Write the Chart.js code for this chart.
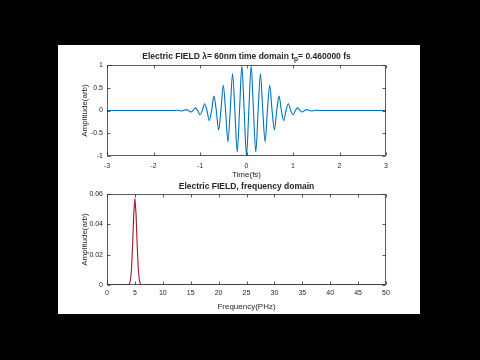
<!DOCTYPE html>
<html>
<head>
<meta charset="utf-8">
<script src="https://cdn.jsdelivr.net/npm/chart.js@4.4.1/dist/chart.umd.min.js"></script>
<style>
  html, body { margin: 0; padding: 0; background: #000; }
  #fig { position: absolute; left: 58px; top: 45px; width: 362px; height: 269px; background: #fff; }
  #timeCanvas { position: absolute; left: 0; top: 0; }
  #freqCanvas { position: absolute; left: 0; top: 137px; }
</style>
</head>
<body>
<div id="fig">
  <canvas id="timeCanvas" width="362" height="137"></canvas>
  <canvas id="freqCanvas" width="362" height="132"></canvas>
</div>
<script>
// time domain samples (fs) and field amplitude
const timeX = [-3, -1.55,
  -1.5, -1.45, -1.4, -1.35, -1.3, -1.25, -1.2, -1.15, -1.1, -1.05,
  -1.0, -0.95, -0.9, -0.85, -0.8, -0.75, -0.7, -0.65, -0.6, -0.55,
  -0.5, -0.45, -0.4, -0.35, -0.3, -0.25, -0.2, -0.15, -0.1, -0.05,
  0,
  0.05, 0.1, 0.15, 0.2, 0.25, 0.3, 0.35, 0.4, 0.45, 0.5,
  0.55, 0.6, 0.65, 0.7, 0.75, 0.8, 0.85, 0.9, 0.95, 1.0,
  1.05, 1.1, 1.15, 1.2, 1.25, 1.3, 1.35, 1.4, 1.45, 1.5,
  1.55, 3];
const timeY = [0, 0,
  0.005, 0, -0.010, 0, 0.019, 0, -0.034, 0, 0.058, 0,
  -0.094, 0, 0.148, 0, -0.221, 0, 0.315, 0, -0.428, 0,
  0.554, 0, -0.685, 0, 0.809, 0, -0.910, 0, 0.977, 0,
  -1,
  0, 0.977, 0, -0.910, 0, 0.809, 0, -0.685, 0, 0.554,
  0, -0.428, 0, 0.315, 0, -0.221, 0, 0.148, 0, -0.094,
  0, 0.058, 0, -0.034, 0, 0.019, 0, -0.010, 0, 0.005,
  0, 0];

// frequency domain (PHz) spectrum
const freqX = [0, 3.8, 4.0, 4.2, 4.4, 4.6, 4.8, 5.0, 5.2, 5.4, 5.6, 5.8, 6.0, 6.2, 50];
const freqY = [0, 0, 0.0006, 0.0030, 0.0109, 0.0273, 0.0474, 0.057, 0.0474, 0.0273, 0.0109, 0.0030, 0.0006, 0, 0];

const timeTicksX = [-3, -2, -1, 0, 1, 2, 3];
const timeTicksY = [-1, -0.5, 0, 0.5, 1];
const freqTicksX = [0, 5, 10, 15, 20, 25, 30, 35, 40, 45, 50];
const freqTicksY = [0, 0.02, 0.04, 0.06];

const FONT = '"Liberation Sans", Arial, Helvetica, sans-serif';
const INK = '#262626';

function pairs(xs, ys) {
  return xs.map((x, i) => ({ x: x, y: ys[i] }));
}

// box around the axes plus MATLAB style inward ticks and the title
const matlabAxes = {
  id: 'matlabAxes',
  afterDraw(chart, args, opts) {
    const ctx = chart.ctx;
    const a = chart.chartArea;
    const sx = chart.scales.x, sy = chart.scales.y;
    ctx.save();
    ctx.strokeStyle = 'rgba(38,38,38,0.75)';
    ctx.lineWidth = 1;
    const L = Math.round(a.left) + 0.5, R = Math.round(a.right) - 0.5;
    const T = Math.round(a.top) + 0.5, B = Math.round(a.bottom) - 0.5;
    ctx.strokeRect(L, T, R - L, B - T);
    ctx.beginPath();
    opts.ticksX.forEach(v => {
      const px = Math.round(sx.getPixelForValue(v)) + 0.5;
      ctx.moveTo(px, B); ctx.lineTo(px, B - 3);
      ctx.moveTo(px, T); ctx.lineTo(px, T + 3);
    });
    opts.ticksY.forEach(v => {
      const py = Math.round(sy.getPixelForValue(v)) + 0.5;
      ctx.moveTo(L, py); ctx.lineTo(L + 3, py);
      ctx.moveTo(R, py); ctx.lineTo(R - 3, py);
    });
    ctx.stroke();

    // title, with optional subscript part
    ctx.fillStyle = INK;
    ctx.textBaseline = 'middle';
    ctx.textAlign = 'left';
    const big = 'bold 8.5px ' + FONT;
    const small = 'bold 6.5px ' + FONT;
    const parts = opts.title;
    let total = 0;
    parts.forEach(p => { ctx.font = p.sub ? small : big; total += ctx.measureText(p.text).width; });
    let x = (a.left + a.right) / 2 - total / 2;
    parts.forEach(p => {
      ctx.font = p.sub ? small : big;
      ctx.fillText(p.text, x, opts.titleY + (p.sub ? 3 : 0));
      x += ctx.measureText(p.text).width;
    });
    ctx.restore();
  }
};

function axisOpts(min, max, step, titleText, pad, sizeFn) {
  return {
    type: 'linear',
    min: min, max: max,
    grid: { display: false, drawTicks: false },
    border: { display: false },
    ticks: {
      stepSize: step,
      color: INK,
      font: { family: FONT, size: 7 },
      padding: pad,
      callback: v => String(+v.toFixed(2))
    },
    title: {
      display: true,
      text: titleText,
      color: INK,
      font: { family: FONT, size: 8 },
      padding: { top: 0, bottom: 2 }
    },
    afterFit: sizeFn
  };
}

new Chart(document.getElementById('timeCanvas'), {
  type: 'line',
  data: {
    datasets: [{
      data: pairs(timeX, timeY),
      borderColor: '#0072BD',
      borderWidth: 1.1,
      pointRadius: 0,
      cubicInterpolationMode: 'monotone',
      fill: false
    }]
  },
  options: {
    responsive: false,
    animation: false,
    devicePixelRatio: 1,
    layout: { padding: { top: 20, right: 34, left: 22, bottom: 0 } },
    plugins: {
      legend: { display: false },
      tooltip: { enabled: false },
      matlabAxes: {
        ticksX: timeTicksX, ticksY: timeTicksY, titleY: 11.5,
        title: [
          { text: 'Electric FIELD \u03bb= 60nm time domain t' },
          { text: 'p', sub: true },
          { text: '= 0.460000 fs' }
        ]
      }
    },
    scales: {
      x: axisOpts(-3, 3, 1, 'Time(fs)', 6, s => { s.height = 26; }),
      y: axisOpts(-1, 1, 0.5, 'Amplitude(arb)', 4, s => { s.width = 27; })
    }
  },
  plugins: [matlabAxes]
});

new Chart(document.getElementById('freqCanvas'), {
  type: 'line',
  data: {
    datasets: [{
      data: pairs(freqX, freqY),
      borderColor: '#A2142F',
      borderWidth: 1.1,
      pointRadius: 0,
      tension: 0,
      fill: false
    }]
  },
  options: {
    responsive: false,
    animation: false,
    devicePixelRatio: 1,
    layout: { padding: { top: 12, right: 34, left: 22, bottom: 0 } },
    plugins: {
      legend: { display: false },
      tooltip: { enabled: false },
      matlabAxes: {
        ticksX: freqTicksX, ticksY: freqTicksY, titleY: 5,
        title: [{ text: 'Electric FIELD, frequency domain' }]
      }
    },
    scales: {
      x: axisOpts(0, 50, 5, 'Frequency(PHz)', 4, s => { s.height = 29; }),
      y: axisOpts(0, 0.06, 0.02, 'Amplitude(arb)', 4, s => { s.width = 27; })
    }
  },
  plugins: [matlabAxes]
});
</script>
</body>
</html>
